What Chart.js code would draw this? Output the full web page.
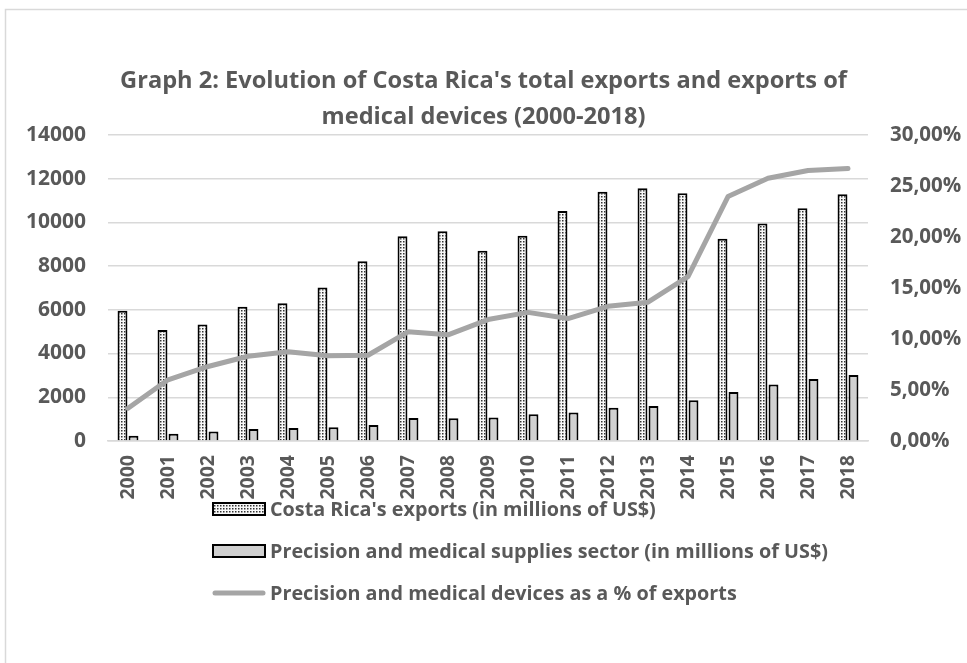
<!DOCTYPE html>
<html>
<head>
<meta charset="utf-8">
<script src="https://cdn.jsdelivr.net/npm/chart.js@4.4.1/dist/chart.umd.min.js"></script>
<style>
  html, body { margin: 0; padding: 0; background: #fff; }
  #wrap { position: relative; width: 967px; height: 663px; }
</style>
</head>
<body>
<div id="wrap"><canvas id="exportsChart"></canvas></div>
<script>
// data
const years = ["2000", "2001", "2002", "2003", "2004", "2005", "2006", "2007", "2008", "2009",
               "2010", "2011", "2012", "2013", "2014", "2015", "2016", "2017", "2018"];
const exportsValues = [5950, 5070, 5330, 6140, 6300, 7020, 8220, 9360, 9590, 8700,
                       9390, 10520, 11400, 11560, 11330, 9250, 9940, 10640, 11280];
const medicalValues = [240, 335, 430, 550, 595, 625, 730, 1050, 1040, 1080,
                       1220, 1300, 1520, 1600, 1860, 2240, 2580, 2840, 3020];
const sharePct = [3.2, 6.0, 7.3, 8.3, 8.75, 8.35, 8.4, 10.7, 10.4, 11.9,
                  12.6, 12.0, 13.2, 13.6, 16.1, 23.95, 25.75, 26.5, 26.7];

const seriesNames = [
    "Costa Rica's exports (in millions of US$)",
    "Precision and medical supplies sector (in millions of US$)",
    "Precision and medical devices as a % of exports"
];
const titleLines = [
    "Graph 2: Evolution of Costa Rica's total exports and exports of",
    "medical devices (2000-2018)"
];

const textColor = "#595959";
const gridColor = "#d9d9d9";
const fontFamily = "'Open Sans', sans-serif";

// dotted fill for the exports bars
function makeDots() {
    const c = document.createElement("canvas");
    c.width = 3;
    c.height = 3;
    const g = c.getContext("2d");
    g.fillStyle = "#f8f8f8";
    g.fillRect(0, 0, 3, 3);
    g.fillStyle = "#333333";
    g.fillRect(1, 1, 1.5, 1.5);
    return g.createPattern(c, "repeat");
}
const dots = makeDots();

//  frame + left-aligned legend, Excel style
const framePlugin = {
    id: "frame",
    beforeDraw(chart) {
        const ctx = chart.ctx;
        ctx.save();
        ctx.strokeStyle = gridColor;
        ctx.lineWidth = 1.5;
        ctx.beginPath();
        ctx.moveTo(5.5, 663);
        ctx.lineTo(5.5, 9.5);
        ctx.lineTo(967, 9.5);
        ctx.stroke();
        ctx.restore();
    },
    afterDraw(chart) {
        const ctx = chart.ctx;
        const x0 = 213, boxW = 52, boxH = 12;
        const rows = [509, 551, 593];
        ctx.save();
        ctx.font = "bold 19.8px " + fontFamily;
        ctx.textBaseline = "middle";
        rows.forEach((y, i) => {
            const ds = chart.data.datasets[i];
            if (ds.type === "line") {
                ctx.strokeStyle = ds.borderColor;
                ctx.lineWidth = 5;
                ctx.lineCap = "round";
                ctx.beginPath();
                ctx.moveTo(x0 + 2, y);
                ctx.lineTo(x0 + boxW - 2, y);
                ctx.stroke();
            } else {
                ctx.fillStyle = ds.backgroundColor;
                ctx.fillRect(x0, y - boxH / 2, boxW, boxH);
                ctx.strokeStyle = "#000";
                ctx.lineWidth = 2;
                ctx.strokeRect(x0, y - boxH / 2, boxW, boxH);
            }
            ctx.fillStyle = textColor;
            ctx.fillText(ds.label, x0 + boxW + 5, y + 1);
        });
        ctx.restore();
    }
};

const ctx = document.getElementById("exportsChart").getContext("2d");

new Chart(ctx, {
    data: {
        labels: years,
        datasets: [
            {
                type: "bar",
                label: seriesNames[0],
                data: exportsValues,
                backgroundColor: dots,
                borderColor: "#000",
                borderWidth: 2,
                yAxisID: "y",
                order: 1
            },
            {
                type: "bar",
                label: seriesNames[1],
                data: medicalValues,
                backgroundColor: "#d0d0d0",
                borderColor: "#000",
                borderWidth: 2,
                yAxisID: "y",
                order: 1
            },
            {
                type: "line",
                label: seriesNames[2],
                data: sharePct,
                borderColor: "#a5a5a5",
                borderWidth: 5,
                borderJoinStyle: "round",
                borderCapStyle: "round",
                pointRadius: 0,
                tension: 0,
                yAxisID: "y1",
                order: 0
            }
        ]
    },
    options: {
        responsive: true,
        maintainAspectRatio: false,
        animation: false,
        datasets: {
            bar: { categoryPercentage: 0.55, barPercentage: 0.9 }
        },
        layout: { padding: 0 },
        plugins: {
            legend: { display: false },
            tooltip: { enabled: false },
            title: {
                display: true,
                text: titleLines,
                color: textColor,
                font: { family: fontFamily, size: 23.6, weight: "bold", lineHeight: 1.5 },
                padding: { top: 64, bottom: 0 }
            }
        },
        scales: {
            x: {
                grid: { display: false, drawTicks: false },
                border: { display: true, color: gridColor, width: 1.5 },
                ticks: {
                    color: textColor,
                    font: { family: fontFamily, size: 19.5, weight: "bold" },
                    minRotation: 90,
                    maxRotation: 90,
                    padding: 14
                },
                afterFit(scale) { scale.height = 222; }
            },
            y: {
                position: "left",
                min: 0,
                max: 14000,
                ticks: {
                    stepSize: 2000,
                    color: textColor,
                    font: { family: fontFamily, size: 21, weight: "bold" },
                    padding: 22,
                    callback: v => String(v)
                },
                grid: { color: gridColor, lineWidth: 1.5, drawTicks: false },
                border: { display: false },
                afterFit(scale) { scale.width = 108; }
            },
            y1: {
                position: "right",
                min: 0,
                max: 30,
                ticks: {
                    stepSize: 5,
                    color: textColor,
                    font: { family: fontFamily, size: 20.5, weight: "bold" },
                    padding: 22,
                    callback: v => v.toFixed(2).replace(".", ",") + "%"
                },
                grid: { display: false, drawTicks: false },
                border: { display: false },
                afterFit(scale) { scale.width = 99; }
            }
        }
    },
    plugins: [framePlugin]
});
</script>
</body>
</html>
